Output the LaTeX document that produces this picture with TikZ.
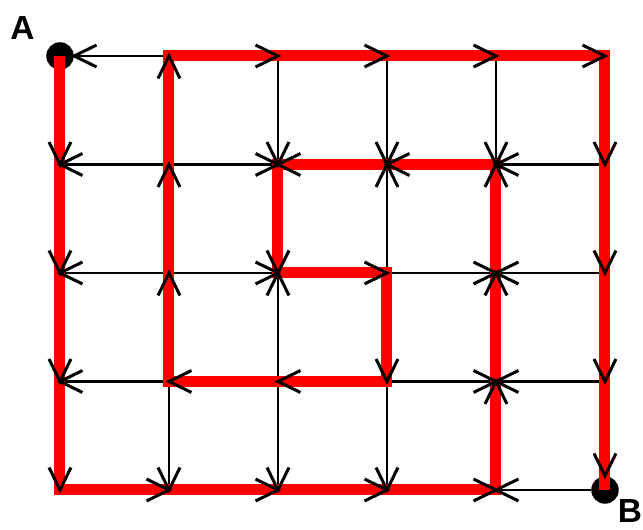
\documentclass[tikz,border=0pt]{standalone}
\usepackage{fontspec}
\setmainfont{Liberation Sans}
\usetikzlibrary{calc,positioning}

% open arrow head drawn on top of the red route
\newcommand{\drawbarb}[2]{%
  \draw[tipline] ($(#2)!0.5cm!26:(#1)$) -- (#2) -- ($(#2)!0.5cm!-26:(#1)$);}

\begin{document}
\begin{tikzpicture}[
    x=2.18cm, y=-2.17cm,
    grid/.style={line width=0.055cm, black},
    tipline/.style={line width=0.06cm, black, line join=miter},
    route/.style={line width=0.22cm, red, line join=miter},
    endpt/.style={circle, fill=black, minimum size=0.55cm, inner sep=0pt},
    lbl/.style={font=\fontsize{19}{19}\selectfont\bfseries, inner sep=0pt},
  ]
    \useasboundingbox (-1.2cm,1.12cm) rectangle (11.66cm,-9.48cm);

    % Grid points
    \foreach \i in {0,...,5}
      \foreach \j in {0,...,4}
        \coordinate (v\i\j) at (\i,\j);

    % Start and end
    \node[endpt] (A) at (v00) {};
    \node[endpt] (B) at (v54) {};

    % Directed edges (from/to)
    \def\edgelist{v10/A.east, v10/v20, v20/v30, v30/v40, v40/v50,
      v11/v01, v11/v21, v31/v21, v41/v31, v51/v41,
      v12/v02, v12/v22, v22/v32, v32/v42, v52/v42,
      v13/v03, v23/v13, v33/v23, v33/v43, v53/v43,
      v04/v14, v14/v24, v24/v34, v34/v44, B/v44,
      A/v01, v01/v02, v02/v03, v03/v04,
      v11/v10, v12/v11, v13/v12, v13/v14,
      v20/v21, v21/v22, v23/v22, v23/v24,
      v30/v31, v32/v31, v32/v33, v33/v34,
      v40/v41, v42/v41, v43/v42, v44/v43,
      v50/v51, v51/v52, v52/v53, v53/B.north}

    \foreach \from/\to in \edgelist
      \draw[grid] (\from) -- (\to);

    % Route from A to B
    \draw[route] (A.center) -- (v04) -- (v44) -- (v41) -- (v21) -- (v22)
      -- (v32) -- (v33) -- (v13) -- (v10) -- (v50) -- (B.center);

    % Arrow heads
    \foreach \from/\to in \edgelist
      \drawbarb{\from}{\to};

    % Labels
    \node[lbl] (labA) at ($(A)+(-0.75cm,0.56cm)$) {A};
    \node[lbl] (labB) at ($(B)+(0.5cm,-0.42cm)$) {B};

  \end{tikzpicture}
\end{document}
